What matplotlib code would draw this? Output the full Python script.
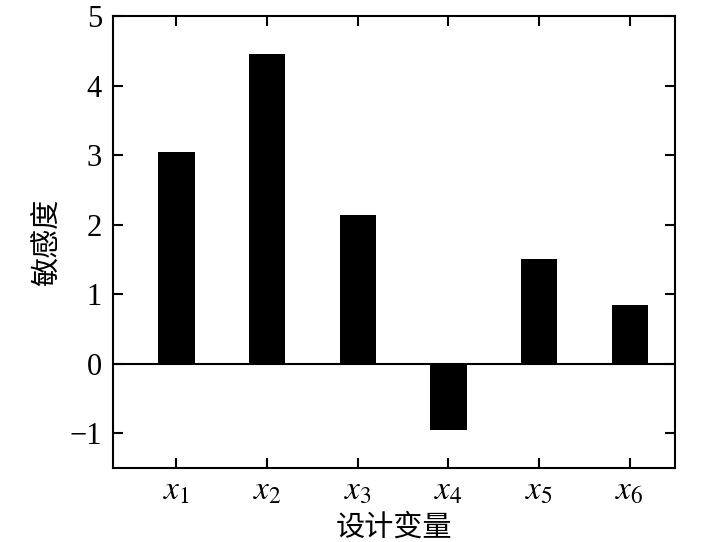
import matplotlib
matplotlib.use("Agg")
import matplotlib.pyplot as plt
import numpy as np

categories = [r"$x_1$", r"$x_2$", r"$x_3$", r"$x_4$", r"$x_5$", r"$x_6$"]
values = [3.04, 4.45, 2.14, -0.95, 1.50, 0.85]
yticks = [-1, 0, 1, 2, 3, 4, 5]
ytick_labels = ["\u22121", "0", "1", "2", "3", "4", "5"]

plt.rcParams['font.family'] = ['Liberation Serif', 'Noto Sans CJK SC']
plt.rcParams['mathtext.fontset'] = 'stix'

fig = plt.figure(figsize=(7.09, 5.42), dpi=100)
ax = fig.add_axes([113/709, 1-468/542, (675-113)/709, (468-16)/542])

pos = np.arange(1, len(categories)+1)
ax.bar(pos, values, width=0.4, color='black')
ax.axhline(0, color='black', lw=1.5)

ax.set_xlim(0.3, 6.5)
ax.set_ylim(-1.5, 5)
ax.set_xticks(pos)
ax.set_xticklabels(categories, fontsize=24)
ax.set_yticks(yticks)
ax.set_yticklabels(ytick_labels, fontsize=22)
ax.tick_params(direction='in', top=True, right=True, length=7, width=1.5, pad=8)
ax.tick_params(axis='x', pad=6)
for s in ax.spines.values():
    s.set_linewidth(1.5)

ax.set_xlabel("设计变量", family=['Noto Sans CJK SC'], fontsize=21, labelpad=4)
ax.set_ylabel("敏感度", family=['Noto Sans CJK SC'], fontsize=21, labelpad=5)

fig.savefig("out.png", dpi=100)
